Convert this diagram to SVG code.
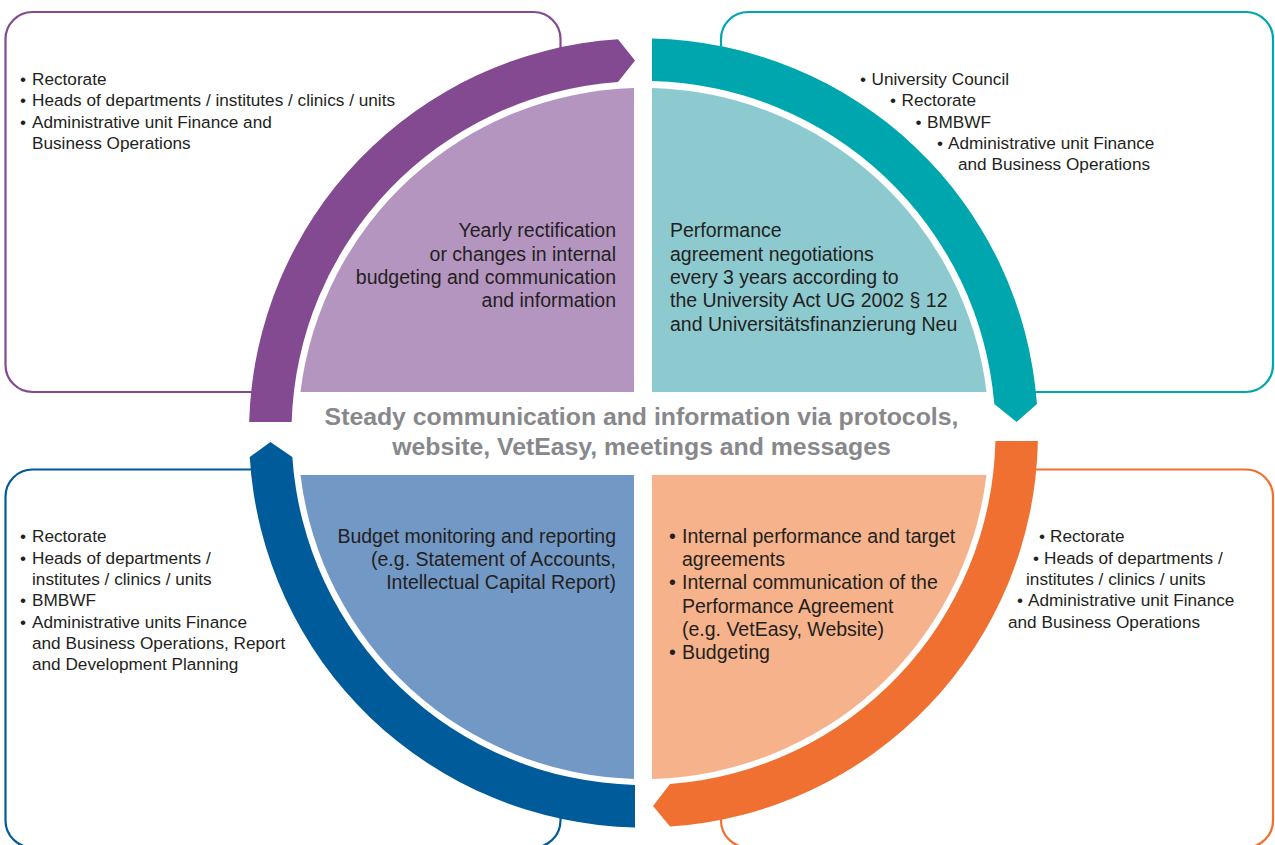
<svg xmlns="http://www.w3.org/2000/svg" width="1275" height="845" viewBox="0 0 1275 845">
<style>
.box{fill:#fff;stroke-width:2.2}
.t{font-family:"Liberation Sans",Arial,sans-serif;font-size:17.2px;fill:#231F20}
.q{font-family:"Liberation Sans",Arial,sans-serif;font-size:19.5px;fill:#231F20}
.c{font-family:"Liberation Sans",Arial,sans-serif;font-size:24.8px;font-weight:bold;fill:#87888B;text-anchor:middle}
.e{text-anchor:end}
</style>
<rect width="1275" height="845" fill="#fff"/>
<g id="box-tl"><rect class="box" x="5.5" y="12" width="555" height="380" rx="27" stroke="#834A91"/></g>
<g id="box-tr"><rect class="box" x="721" y="12" width="552" height="380" rx="27" stroke="#00A6AE"/></g>
<g id="box-bl"><rect class="box" x="5.5" y="469.5" width="555" height="378" rx="27" stroke="#005B9A"/></g>
<g id="box-br"><rect class="box" x="721" y="469.5" width="552" height="378" rx="27" stroke="#F07032"/></g>
<circle cx="643.5" cy="433" r="353" fill="#fff"/>
<g id="quad-tl"><path d="M634 392 L634 88.1 A345.5 345.5 0 0 0 300.5 392 Z" fill="#B495C0"/>
<text class="q e"><tspan x="616" y="237.3">Yearly rectification</tspan><tspan x="616" y="260.7">or changes in internal</tspan><tspan x="616" y="284">budgeting and communication</tspan><tspan x="616" y="307.3">and information</tspan></text></g>
<g id="quad-tr"><path d="M652 392 L652 88.1 A345.5 345.5 0 0 1 986.5 392 Z" fill="#8DCAD0"/>
<text class="q"><tspan x="670" y="237.3">Performance</tspan><tspan x="670" y="260.7">agreement negotiations</tspan><tspan x="670" y="284">every 3 years according to</tspan><tspan x="670" y="307.3">the University Act UG 2002 § 12</tspan><tspan x="670" y="330.7">and Universitätsfinanzierung Neu</tspan></text></g>
<g id="quad-bl"><path d="M634 475 L300.5 475 A345.5 345.5 0 0 0 634 778.9 Z" fill="#7298C5"/>
<text class="q e"><tspan x="616" y="542.7">Budget monitoring and reporting</tspan><tspan x="616" y="566">(e.g. Statement of Accounts,</tspan><tspan x="616" y="589.3">Intellectual Capital Report)</tspan></text></g>
<g id="quad-br"><path d="M652 475 L652 778.9 A345.5 345.5 0 0 0 986.5 475 Z" fill="#F6B28B"/>
<text class="q"><tspan x="669" y="542.7">•</tspan><tspan x="682" y="542.7">Internal performance and target</tspan><tspan x="682" y="566">agreements</tspan><tspan x="669" y="589.3">•</tspan><tspan x="682" y="589.3">Internal communication of the</tspan><tspan x="682" y="612.7">Performance Agreement</tspan><tspan x="682" y="636">(e.g. VetEasy, Website)</tspan><tspan x="669" y="659.3">•</tspan><tspan x="682" y="659.3">Budgeting</tspan></text></g>
<g id="connectors">
<path d="M249.15 422 A394.5 394.5 0 0 1 618 39.33 L635 60.6 L618 81.93 A352 352 0 0 0 291.67 422 Z" fill="#834A91"/>
<path d="M652 38.59 A394.5 394.5 0 0 1 1036.93 404 L1016.6 422 L994.3 404 A352 352 0 0 0 652 81.1 Z" fill="#00A6AE"/>
<path d="M1037.92 441 A394.5 394.5 0 0 1 670 826.61 L653 806.1 L670 784 A352 352 0 0 0 995.41 441 Z" fill="#F07032"/>
<path d="M635 827.41 A394.5 394.5 0 0 1 249.73 457 L270.4 442 L292.32 457 A352 352 0 0 0 635 784.9 Z" fill="#005B9A"/>
</g>
<g id="text-tl"><text class="t"><tspan x="20" y="85">•</tspan><tspan x="32" y="85">Rectorate</tspan><tspan x="20" y="106.3">•</tspan><tspan x="32" y="106.3">Heads of departments / institutes / clinics / units</tspan><tspan x="20" y="127.6">•</tspan><tspan x="32" y="127.6">Administrative unit Finance and</tspan><tspan x="32" y="149">Business Operations</tspan></text></g>
<g id="text-tr"><text class="t"><tspan x="860" y="85">•</tspan><tspan x="871.5" y="85">University Council</tspan><tspan x="890" y="106.3">•</tspan><tspan x="901.5" y="106.3">Rectorate</tspan><tspan x="915.5" y="127.6">•</tspan><tspan x="927" y="127.6">BMBWF</tspan><tspan x="937" y="149">•</tspan><tspan x="948" y="149">Administrative unit Finance</tspan><tspan x="958" y="170.3">and Business Operations</tspan></text></g>
<g id="text-bl"><text class="t"><tspan x="20" y="542.3">•</tspan><tspan x="32" y="542.3">Rectorate</tspan><tspan x="20" y="563.6">•</tspan><tspan x="32" y="563.6">Heads of departments /</tspan><tspan x="32" y="584.9">institutes / clinics / units</tspan><tspan x="20" y="606.2">•</tspan><tspan x="32" y="606.2">BMBWF</tspan><tspan x="20" y="627.5">•</tspan><tspan x="32" y="627.5">Administrative units Finance</tspan><tspan x="32" y="648.8">and Business Operations, Report</tspan><tspan x="32" y="670.1">and Development Planning</tspan></text></g>
<g id="text-br"><text class="t"><tspan x="1039" y="542.3">•</tspan><tspan x="1050" y="542.3">Rectorate</tspan><tspan x="1033" y="563.6">•</tspan><tspan x="1044" y="563.6">Heads of departments /</tspan><tspan x="1026" y="584.9">institutes / clinics / units</tspan><tspan x="1017" y="606.2">•</tspan><tspan x="1028" y="606.2">Administrative unit Finance</tspan><tspan x="1008" y="627.5">and Business Operations</tspan></text></g>
<g id="center-text"><text class="c"><tspan x="641.5" y="425">Steady communication and information via protocols,</tspan><tspan x="641.5" y="455">website, VetEasy, meetings and messages</tspan></text></g>
</svg>
